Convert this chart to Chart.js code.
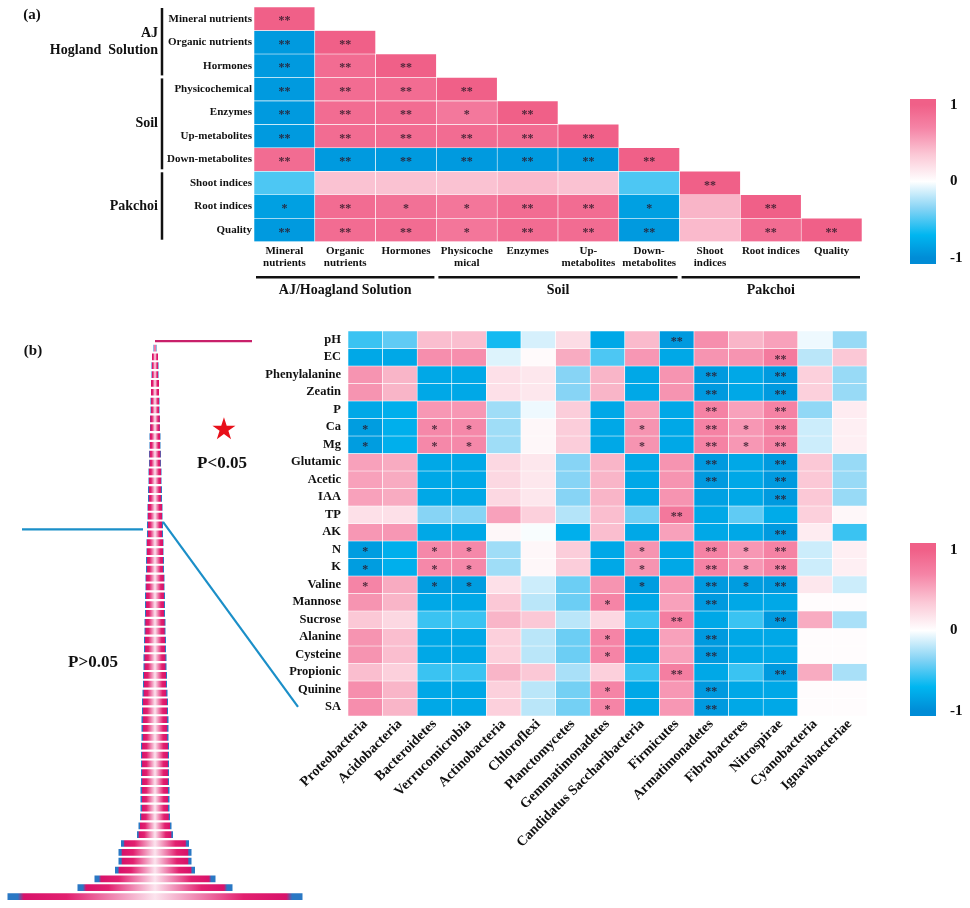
<!DOCTYPE html>
<html>
<head>
<meta charset="utf-8">
<script src="https://cdn.jsdelivr.net/npm/chart.js@4.4.1/dist/chart.umd.min.js"></script>
<style>
  html, body { margin: 0; padding: 0; background: #fff; }
  #wrap { position: relative; width: 970px; height: 908px; overflow: hidden;
          font-family: "Liberation Serif", "Times New Roman", serif; font-weight: bold; color: #111; }
  canvas { position: absolute; }
  .txt { position: absolute; white-space: nowrap; transform: translate(-50%, -50%); line-height: 1; }
</style>
</head>
<body>
<div id="wrap">
  <canvas id="heatA" width="900" height="300" style="left:0;top:0"></canvas>
  <canvas id="barA" width="80" height="190" style="left:890px;top:90px"></canvas>
  <canvas id="heatB" width="900" height="588" style="left:0;top:320px"></canvas>
  <canvas id="barB" width="80" height="200" style="left:890px;top:530px"></canvas>
  <canvas id="tower" width="310" height="568" style="left:0;top:340px"></canvas>
  <div class="txt" style="left:32px;top:14px;font-size:15px">(a)</div>
  <div class="txt" style="left:33px;top:350px;font-size:15px">(b)</div>
  <div class="txt" style="left:224px;top:429px;font-size:30px;color:#e8101a;font-family:'DejaVu Sans'">★</div>
  <div class="txt" style="left:222px;top:462px;font-size:17px">P&lt;0.05</div>
  <div class="txt" style="left:93px;top:661px;font-size:17px">P&gt;0.05</div>
</div>
<script>
// ---- panel (a) data ----
const aRows = ['Mineral nutrients', 'Organic nutrients', 'Hormones', 'Physicochemical', 'Enzymes',
  'Up-metabolites', 'Down-metabolites', 'Shoot indices', 'Root indices', 'Quality'];
const aCols = [['Mineral', 'nutrients'], ['Organic', 'nutrients'], ['Hormones'], ['Physicoche', 'mical'],
  ['Enzymes'], ['Up-', 'metabolites'], ['Down-', 'metabolites'], ['Shoot', 'indices'], ['Root indices'], ['Quality']];
const aValues = [
  [1],
  [-0.9, 1],
  [-0.9, 0.9, 1],
  [-0.9, 0.9, 0.9, 1],
  [-0.9, 0.9, 0.9, 0.8, 1],
  [-0.9, 0.9, 0.9, 0.9, 0.9, 1],
  [0.9, -0.9, -0.9, -0.9, -0.9, -0.9, 1],
  [-0.5, 0.38, 0.38, 0.38, 0.42, 0.38, -0.5, 1],
  [-0.86, 0.9, 0.86, 0.82, 0.9, 0.9, -0.86, 0.45, 1],
  [-0.9, 0.9, 0.9, 0.82, 0.9, 0.9, -0.9, 0.42, 0.9, 1]
];
const aStars = [
  ['**'],
  ['**', '**'],
  ['**', '**', '**'],
  ['**', '**', '**', '**'],
  ['**', '**', '**', '*', '**'],
  ['**', '**', '**', '**', '**', '**'],
  ['**', '**', '**', '**', '**', '**', '**'],
  ['', '', '', '', '', '', '', '**'],
  ['*', '**', '*', '*', '**', '**', '*', '', '**'],
  ['**', '**', '**', '*', '**', '**', '**', '', '**', '**']
];
const aColGroups = [
  { label: ['AJ/Hoagland Solution'], from: 0, to: 2 },
  { label: ['Soil'], from: 3, to: 6 },
  { label: ['Pakchoi'], from: 7, to: 9 }
];
const aRowGroups = [
  { label: ['AJ', 'Hogland  Solution'], from: 0, to: 2 },
  { label: ['Soil'], from: 3, to: 6 },
  { label: ['Pakchoi'], from: 7, to: 9 }
];

// ---- panel (b) data ----
const bRows = ['pH', 'EC', 'Phenylalanine', 'Zeatin', 'P', 'Ca', 'Mg', 'Glutamic', 'Acetic', 'IAA', 'TP', 'AK',
  'N', 'K', 'Valine', 'Mannose', 'Sucrose', 'Alanine', 'Cysteine', 'Propionic', 'Quinine', 'SA'];
const bCols = ['Proteobacteria', 'Acidobacteria', 'Bacteroidetes', 'Verrucomicrobia', 'Actinobacteria',
  'Chloroflexi', 'Planctomycetes', 'Gemmatimonadetes', 'Candidatus Saccharibacteria', 'Firmicutes',
  'Armatimonadetes', 'Fibrobacteres', 'Nitrospirae', 'Cyanobacteria', 'Ignavibacteriae'];
const bValues = [
  [-0.55, -0.45, 0.40, 0.40, -0.65, -0.12, 0.22, -0.80, 0.42, -0.90, 0.65, 0.45, 0.55, -0.05, -0.30],
  [-0.80, -0.80, 0.65, 0.65, -0.10, 0.03, 0.50, -0.50, 0.60, -0.80, 0.62, 0.62, 0.78, -0.20, 0.35],
  [0.62, 0.45, -0.80, -0.80, 0.20, 0.15, -0.35, 0.45, -0.80, 0.62, -0.90, -0.80, -0.90, 0.30, -0.30],
  [0.62, 0.45, -0.80, -0.80, 0.20, 0.15, -0.35, 0.45, -0.80, 0.62, -0.90, -0.80, -0.90, 0.30, -0.30],
  [-0.80, -0.75, 0.60, 0.60, -0.28, -0.05, 0.32, -0.80, 0.55, -0.80, 0.72, 0.55, 0.72, -0.32, 0.12],
  [-0.88, -0.75, 0.68, 0.68, -0.28, 0.05, 0.32, -0.80, 0.62, -0.80, 0.72, 0.60, 0.72, -0.15, 0.10],
  [-0.88, -0.75, 0.68, 0.68, -0.28, 0.05, 0.32, -0.80, 0.62, -0.80, 0.72, 0.60, 0.72, -0.15, 0.10],
  [0.55, 0.50, -0.80, -0.80, 0.25, 0.15, -0.35, 0.45, -0.80, 0.62, -0.90, -0.80, -0.90, 0.35, -0.30],
  [0.55, 0.50, -0.80, -0.80, 0.25, 0.15, -0.35, 0.45, -0.80, 0.62, -0.90, -0.80, -0.90, 0.35, -0.30],
  [0.55, 0.50, -0.80, -0.80, 0.25, 0.15, -0.35, 0.45, -0.80, 0.62, -0.85, -0.80, -0.90, 0.35, -0.30],
  [0.20, 0.20, -0.35, -0.35, 0.55, 0.30, -0.22, 0.40, -0.40, 0.80, -0.80, -0.45, -0.78, 0.30, 0.05],
  [0.60, 0.60, -0.80, -0.80, 0.05, -0.02, -0.75, 0.40, -0.80, 0.55, -0.80, -0.80, -0.90, 0.12, -0.55],
  [-0.88, -0.75, 0.68, 0.68, -0.28, 0.05, 0.32, -0.80, 0.62, -0.80, 0.72, 0.60, 0.72, -0.15, 0.10],
  [-0.88, -0.75, 0.68, 0.68, -0.28, 0.05, 0.32, -0.80, 0.62, -0.80, 0.72, 0.60, 0.72, -0.15, 0.10],
  [0.70, 0.50, -0.88, -0.88, 0.20, -0.15, -0.42, 0.62, -0.88, 0.60, -0.90, -0.88, -0.90, 0.15, -0.15],
  [0.62, 0.45, -0.80, -0.80, 0.35, -0.20, -0.42, 0.70, -0.80, 0.55, -0.90, -0.80, -0.80, 0.02, 0.02],
  [0.35, 0.25, -0.55, -0.55, 0.45, 0.35, -0.20, 0.25, -0.55, 0.75, -0.80, -0.55, -0.90, 0.50, -0.25],
  [0.62, 0.40, -0.80, -0.80, 0.30, -0.20, -0.42, 0.70, -0.80, 0.55, -0.90, -0.80, -0.80, 0.02, 0.02],
  [0.62, 0.40, -0.80, -0.80, 0.30, -0.20, -0.42, 0.70, -0.80, 0.55, -0.90, -0.80, -0.80, 0.02, 0.02],
  [0.40, 0.30, -0.55, -0.55, 0.45, 0.35, -0.25, 0.30, -0.55, 0.75, -0.80, -0.55, -0.90, 0.50, -0.25],
  [0.65, 0.45, -0.80, -0.80, 0.30, -0.20, -0.40, 0.70, -0.80, 0.60, -0.90, -0.80, -0.80, 0.02, 0.02],
  [0.65, 0.45, -0.80, -0.80, 0.30, -0.20, -0.40, 0.70, -0.80, 0.60, -0.90, -0.80, -0.80, 0.02, 0.02]
];
const bStars = [
  ['', '', '', '', '', '', '', '', '', '**', '', '', '', '', ''],
  ['', '', '', '', '', '', '', '', '', '', '', '', '**', '', ''],
  ['', '', '', '', '', '', '', '', '', '', '**', '', '**', '', ''],
  ['', '', '', '', '', '', '', '', '', '', '**', '', '**', '', ''],
  ['', '', '', '', '', '', '', '', '', '', '**', '', '**', '', ''],
  ['*', '', '*', '*', '', '', '', '', '*', '', '**', '*', '**', '', ''],
  ['*', '', '*', '*', '', '', '', '', '*', '', '**', '*', '**', '', ''],
  ['', '', '', '', '', '', '', '', '', '', '**', '', '**', '', ''],
  ['', '', '', '', '', '', '', '', '', '', '**', '', '**', '', ''],
  ['', '', '', '', '', '', '', '', '', '', '', '', '**', '', ''],
  ['', '', '', '', '', '', '', '', '', '**', '', '', '', '', ''],
  ['', '', '', '', '', '', '', '', '', '', '', '', '**', '', ''],
  ['*', '', '*', '*', '', '', '', '', '*', '', '**', '*', '**', '', ''],
  ['*', '', '*', '*', '', '', '', '', '*', '', '**', '*', '**', '', ''],
  ['*', '', '*', '*', '', '', '', '', '*', '', '**', '*', '**', '', ''],
  ['', '', '', '', '', '', '', '*', '', '', '**', '', '', '', ''],
  ['', '', '', '', '', '', '', '', '', '**', '', '', '**', '', ''],
  ['', '', '', '', '', '', '', '*', '', '', '**', '', '', '', ''],
  ['', '', '', '', '', '', '', '*', '', '', '**', '', '', '', ''],
  ['', '', '', '', '', '', '', '', '', '**', '', '', '**', '', ''],
  ['', '', '', '', '', '', '', '*', '', '', '**', '', '', '', ''],
  ['', '', '', '', '', '', '', '*', '', '', '**', '', '', '', '']
];

// widths of the stacked bars on the left of (b), top to bottom
const towerWidths = [3, 6, 7, 7, 8, 8, 9, 9, 10, 10, 11, 11, 12, 12, 13, 13, 14, 14, 15, 15, 16, 16,
  17, 17, 18, 18, 19, 19, 20, 20, 20, 21, 21, 22, 22, 23, 23, 24, 24, 25, 26, 26, 27, 27, 27, 28, 28,
  28, 28, 28, 29, 29, 29, 30, 33, 36, 68, 73, 73, 80, 121, 155, 295];
const sigCount = 21;
const cbarTicks = [-1, 0, 1];

// ---- colour scale ----
const cmapStops = [
  [-1, [0, 140, 214]],
  [-0.7, [0, 182, 240]],
  [-0.35, [135, 212, 245]],
  [0, [255, 255, 255]],
  [0.35, [251, 200, 214]],
  [0.7, [245, 132, 166]],
  [1, [240, 96, 136]]
];
function colorOf(v) {
  for (let k = 1; k < cmapStops.length; k++) {
    const [v0, c0] = cmapStops[k - 1];
    const [v1, c1] = cmapStops[k];
    if (v <= v1) {
      const t = Math.max(0, (v - v0) / (v1 - v0));
      return 'rgb(' + c0.map((c, n) => Math.round(c + (c1[n] - c) * t)).join(',') + ')';
    }
  }
  return 'rgb(' + cmapStops[cmapStops.length - 1][1].join(',') + ')';
}

Chart.defaults.font.family = '"Liberation Serif", "Times New Roman", serif';
Chart.defaults.font.weight = 'bold';
Chart.defaults.color = '#111';

// no label overflow padding, so the chart areas land where we put them
function noPad(s) { s.paddingTop = 0; s.paddingBottom = 0; s.paddingLeft = 0; s.paddingRight = 0; }

// star text in the cells
const cellStars = {
  id: 'cellStars',
  afterDatasetsDraw(chart, args, opts) {
    const { ctx } = chart;
    ctx.save();
    ctx.font = 'bold ' + opts.size + 'px "Liberation Serif"';
    ctx.fillStyle = 'rgba(45,25,40,0.85)';
    ctx.textAlign = 'center';
    ctx.textBaseline = 'middle';
    chart.data.datasets.forEach((ds, i) => {
      chart.getDatasetMeta(i).data.forEach((bar, j) => {
        const s = opts.stars[i][j];
        if (!s || ds.data[j] == null) return;
        const p = bar.getProps(['x', 'y', 'base'], true);
        ctx.fillText(s, p.x, (p.y + p.base) / 2 + opts.dy);
      });
    });
    ctx.restore();
  }
};

// group brackets + labels for panel (a)
const groupLabels = {
  id: 'groupLabels',
  afterDraw(chart) {
    const { ctx, chartArea: a, scales: { x, y } } = chart;
    const colW = a.width / aCols.length;
    ctx.save();
    ctx.strokeStyle = '#111';
    ctx.fillStyle = '#111';
    ctx.lineWidth = 2.5;
    ctx.font = 'bold 14px "Liberation Serif"';
    ctx.textBaseline = 'middle';
    ctx.textAlign = 'center';
    aColGroups.forEach(g => {
      const x1 = x.getPixelForValue(g.from) - colW / 2 + 2;
      const x2 = x.getPixelForValue(g.to) + colW / 2 - 2;
      ctx.beginPath();
      ctx.moveTo(x1, a.bottom + 35.5);
      ctx.lineTo(x2, a.bottom + 35.5);
      ctx.stroke();
      ctx.fillText(g.label[0], (x1 + x2) / 2, a.bottom + 49);
    });
    ctx.textAlign = 'right';
    aRowGroups.forEach(g => {
      const y1 = y.getPixelForValue(g.from) + 1;
      const y2 = y.getPixelForValue(g.to + 1) - 2;
      ctx.beginPath();
      ctx.moveTo(a.left - 92, y1);
      ctx.lineTo(a.left - 92, y2);
      ctx.stroke();
      const mid = (y1 + y2) / 2;
      g.label.forEach((t, k) => {
        ctx.fillText(t, a.left - 96, mid + (k - (g.label.length - 1) / 2) * 17);
      });
    });
    ctx.restore();
  }
};

function heatDatasets(rows, cols, values) {
  return rows.map((r, i) => ({
    label: r,
    data: cols.map((_, j) => values[i][j] == null ? null : [i, i + 1]),
    backgroundColor: cols.map((_, j) => values[i][j] == null ? 'rgba(0,0,0,0)' : colorOf(values[i][j])),
    borderColor: '#ffffff',
    borderWidth: 0.6,
    borderSkipped: false,
    grouped: false,
    categoryPercentage: 1,
    barPercentage: 1
  }));
}

// ---- panel (a) heatmap ----
new Chart(document.getElementById('heatA'), {
  type: 'bar',
  data: { labels: aCols, datasets: heatDatasets(aRows, aCols, aValues) },
  options: {
    responsive: false,
    animation: false,
    layout: { padding: { top: 7, right: 38, left: 0, bottom: 0 } },
    plugins: {
      legend: { display: false },
      tooltip: { enabled: false },
      cellStars: { stars: aStars, size: 12, dy: 2.5 }
    },
    scales: {
      x: {
        grid: { display: false, drawTicks: false },
        border: { display: false },
        ticks: { font: { size: 11, lineHeight: 1.1 }, padding: 3, maxRotation: 0, autoSkip: false },
        afterFit: s => { s.height = 58.3; noPad(s); }
      },
      y: {
        min: 0, max: aRows.length, reverse: true,
        grid: { display: false, drawTicks: false },
        border: { display: false },
        afterBuildTicks: s => { s.ticks = aRows.map((_, i) => ({ value: i + 0.5 })); },
        ticks: { callback: (v, i) => aRows[i], font: { size: 11 }, padding: 2, autoSkip: false },
        afterFit: s => { s.width = 254; noPad(s); }
      }
    }
  },
  plugins: [cellStars, groupLabels]
});

// ---- panel (b) heatmap ----
new Chart(document.getElementById('heatB'), {
  type: 'bar',
  data: { labels: bCols, datasets: heatDatasets(bRows, bCols, bValues) },
  options: {
    responsive: false,
    animation: false,
    layout: { padding: { top: 11, right: 33, left: 0, bottom: 0 } },
    plugins: {
      legend: { display: false },
      tooltip: { enabled: false },
      cellStars: { stars: bStars, size: 12, dy: 2.5 }
    },
    scales: {
      x: {
        grid: { display: false, drawTicks: false },
        border: { display: false },
        ticks: { font: { size: 14 }, padding: 0, minRotation: 45, maxRotation: 45, autoSkip: false },
        afterFit: s => { s.height = 192; noPad(s); }
      },
      y: {
        min: 0, max: bRows.length, reverse: true,
        grid: { display: false, drawTicks: false },
        border: { display: false },
        afterBuildTicks: s => { s.ticks = bRows.map((_, i) => ({ value: i + 0.5 })); },
        ticks: { callback: (v, i) => bRows[i], font: { size: 12.5 }, padding: 7, autoSkip: false },
        afterFit: s => { s.width = 348; noPad(s); }
      }
    }
  },
  plugins: [cellStars]
});

// ---- colour bars ----
function colorbar(id, yMin, yMax, padTop, padBottom) {
  new Chart(document.getElementById(id), {
    type: 'bar',
    data: {
      labels: [''],
      datasets: [{
        data: [[yMin, yMax]],
        backgroundColor(ctx) {
          const { chart } = ctx;
          const y = chart.scales.y;
          if (!chart.chartArea || !y) return '#ffffff';
          const y1 = y.getPixelForValue(1), y2 = y.getPixelForValue(-1);
          if (!isFinite(y1) || !isFinite(y2)) return '#ffffff';
          const g = chart.ctx.createLinearGradient(0, y1, 0, y2);
          cmapStops.forEach(([v, c]) => g.addColorStop((1 - v) / 2, 'rgb(' + c.join(',') + ')'));
          return g;
        },
        borderWidth: 0,
        barPercentage: 1,
        categoryPercentage: 1
      }]
    },
    options: {
      responsive: false,
      animation: false,
      layout: { padding: { left: 20, top: padTop, bottom: padBottom, right: 0 } },
      plugins: { legend: { display: false }, tooltip: { enabled: false } },
      scales: {
        x: { display: false },
        y: {
          position: 'right', min: yMin, max: yMax,
          grid: { display: false, drawTicks: false },
          border: { display: false },
          afterBuildTicks: s => { s.ticks = cbarTicks.map(v => ({ value: v })); },
          ticks: { font: { size: 15 }, padding: 14, callback: v => String(v) },
          afterFit: s => { s.width = 34; noPad(s); }
        }
      }
    }
  });
}
colorbar('barA', -1.078, 1.078, 9, 16);
colorbar('barB', -1.062, 1.087, 13, 14);

// ---- stacked bars on the left of (b) ----
const connectors = {
  id: 'connectors',
  afterDatasetsDraw(chart) {
    const { ctx, scales: { x, y } } = chart;
    ctx.save();
    ctx.lineWidth = 2.4;
    // pink line from the top of the stack
    const yTop = y.getPixelForValue(0) - 7;
    ctx.strokeStyle = '#c8206a';
    ctx.beginPath();
    ctx.moveTo(x.getPixelForValue(0), yTop);
    ctx.lineTo(x.getPixelForValue(97), yTop);
    ctx.stroke();
    // blue cut between significant / not significant
    const yCut = y.getPixelForValue(sigCount - 0.5);
    ctx.strokeStyle = '#1b8fc8';
    ctx.lineWidth = 2.2;
    ctx.beginPath();
    ctx.moveTo(x.getPixelForValue(-133), yCut);
    ctx.lineTo(x.getPixelForValue(-towerWidths[sigCount] / 2 - 4), yCut);
    ctx.stroke();
    ctx.beginPath();
    ctx.moveTo(x.getPixelForValue(towerWidths[sigCount - 1] / 2), yCut - 7.5);
    ctx.lineTo(x.getPixelForValue(143), y.getPixelForValue(40.56));
    ctx.stroke();
    ctx.restore();
  }
};

new Chart(document.getElementById('tower'), {
  type: 'bar',
  data: {
    labels: towerWidths.map((_, i) => String(i + 1)),
    datasets: [{
      data: towerWidths.map(w => [-w / 2, w / 2]),
      backgroundColor(ctx) {
        const { chart } = ctx;
        const x = chart.scales.x;
        if (!chart.chartArea || !x || ctx.dataIndex == null) return '#e0186c';
        const w = towerWidths[ctx.dataIndex];
        const x1 = x.getPixelForValue(-w / 2), x2 = x.getPixelForValue(w / 2);
        if (!isFinite(x1) || !isFinite(x2)) return '#e0186c';
        const g = chart.ctx.createLinearGradient(x1, 0, x2, 0);
        g.addColorStop(0, '#2a78c4');
        g.addColorStop(0.035, '#2a78c4');
        g.addColorStop(0.055, '#d8126a');
        g.addColorStop(0.2, '#e2206f');
        g.addColorStop(0.5, '#fce4ee');
        g.addColorStop(0.8, '#e2206f');
        g.addColorStop(0.945, '#d8126a');
        g.addColorStop(0.965, '#2a78c4');
        g.addColorStop(1, '#2a78c4');
        return g;
      },
      borderWidth: 0,
      barPercentage: 0.76,
      categoryPercentage: 1
    }]
  },
  options: {
    indexAxis: 'y',
    responsive: false,
    animation: false,
    layout: { padding: { top: 3.6, bottom: 7, left: 0, right: 0 } },
    plugins: { legend: { display: false }, tooltip: { enabled: false } },
    scales: {
      x: { display: false, min: -155, max: 155 },
      y: { display: false }
    }
  },
  plugins: [connectors]
});
</script>
</body>
</html>
